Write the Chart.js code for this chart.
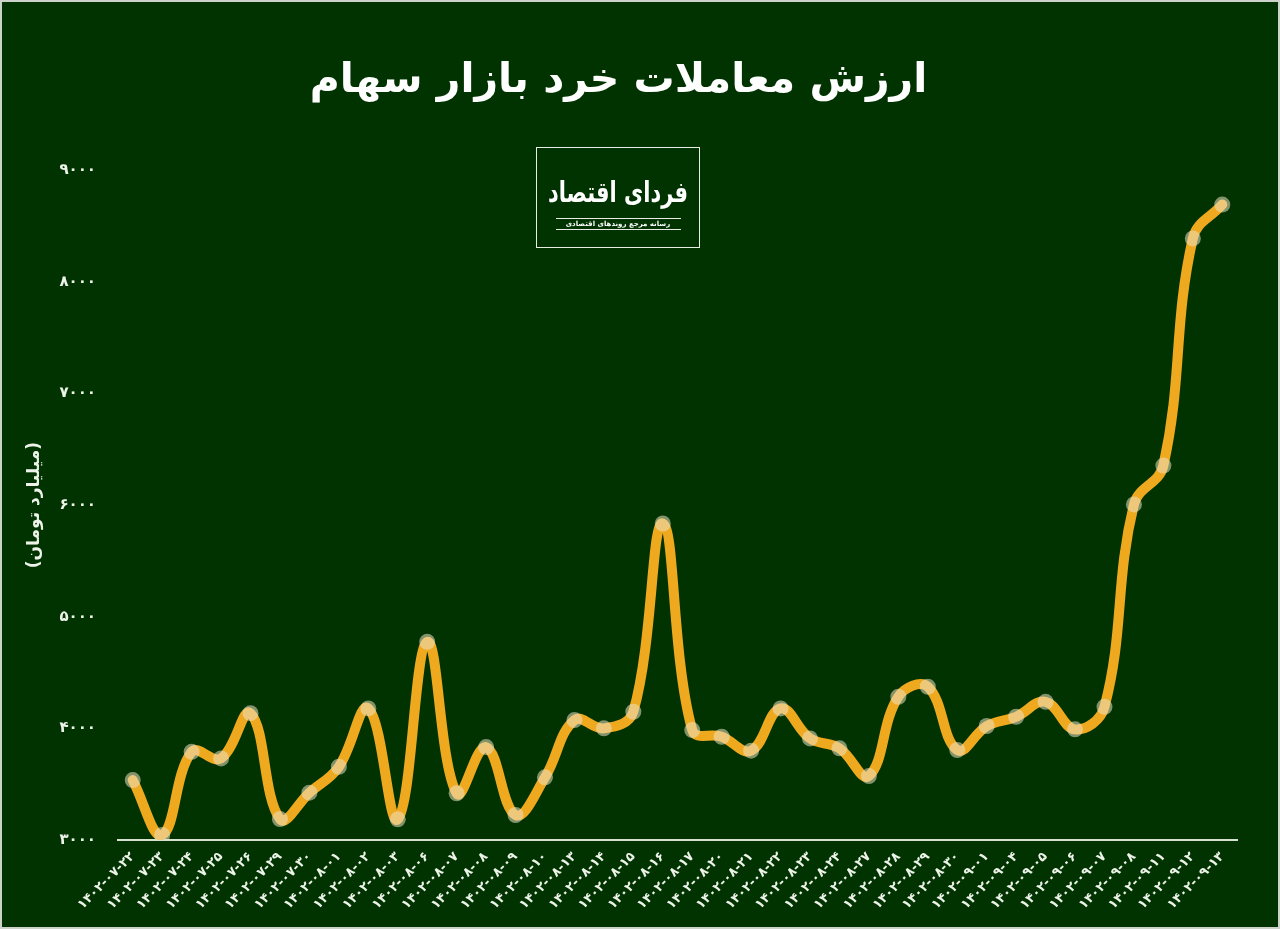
<!DOCTYPE html>
<html lang="fa">
<head>
<meta charset="utf-8">
<title>ارزش معاملات خرد بازار سهام</title>
<script src="https://cdn.jsdelivr.net/npm/chart.js@4.4.1/dist/chart.umd.min.js"></script>
<style>
  html, body { margin: 0; padding: 0; background: #003300; }
  #wrap { position: relative; width: 1280px; height: 929px; overflow: hidden; background: #003300; }
  #c { position: absolute; left: 0; top: 0; }
  #frame { position: absolute; left: 0; top: 0; width: 1280px; height: 929px; box-sizing: border-box;
           border: 2px solid #cdd3c9; pointer-events: none; }
  #logo { position: absolute; left: 536px; top: 147px; width: 164px; height: 101px; box-sizing: border-box;
          border: 1px solid #e8ece4; font-family: "DejaVu Sans", sans-serif; color: #ffffff; direction: rtl; }
  #logo .big { position: absolute; left: 0; width: 100%; top: 28px; text-align: center; font-size: 21px; font-weight: bold; line-height: 34px; white-space: nowrap; transform: scaleY(1.35); }
  #logo .l1 { position: absolute; left: 19px; width: 125px; top: 70px; height: 1px; background: #e8ece4; }
  #logo .l2 { position: absolute; left: 19px; width: 125px; top: 81px; height: 1px; background: #e8ece4; }
  #logo .small { position: absolute; left: 0; width: 100%; top: 71px; text-align: center; font-size: 7px; font-weight: bold; line-height: 10px; white-space: nowrap; }
</style>
</head>
<body>
<div id="wrap">
  <canvas id="c" width="1280" height="929"></canvas>
  <div id="logo">
    <div class="big">فردای اقتصاد</div>
    <div class="l1"></div>
    <div class="small">رسانه مرجع روندهای اقتصادی</div>
    <div class="l2"></div>
  </div>
  <div id="frame"></div>
</div>
<script>
// ---- data ----
const chartTitle = "ارزش معاملات خرد بازار سهام";
const yAxisTitle = "(میلیارد تومان)";
const dates = [
  "۱۴۰۲-۰۷-۲۲","۱۴۰۲-۰۷-۲۳","۱۴۰۲-۰۷-۲۴","۱۴۰۲-۰۷-۲۵","۱۴۰۲-۰۷-۲۶","۱۴۰۲-۰۷-۲۹","۱۴۰۲-۰۷-۳۰",
  "۱۴۰۲-۰۸-۰۱","۱۴۰۲-۰۸-۰۲","۱۴۰۲-۰۸-۰۳","۱۴۰۲-۰۸-۰۶","۱۴۰۲-۰۸-۰۷","۱۴۰۲-۰۸-۰۸","۱۴۰۲-۰۸-۰۹",
  "۱۴۰۲-۰۸-۱۰","۱۴۰۲-۰۸-۱۳","۱۴۰۲-۰۸-۱۴","۱۴۰۲-۰۸-۱۵","۱۴۰۲-۰۸-۱۶","۱۴۰۲-۰۸-۱۷","۱۴۰۲-۰۸-۲۰",
  "۱۴۰۲-۰۸-۲۱","۱۴۰۲-۰۸-۲۲","۱۴۰۲-۰۸-۲۳","۱۴۰۲-۰۸-۲۴","۱۴۰۲-۰۸-۲۷","۱۴۰۲-۰۸-۲۸","۱۴۰۲-۰۸-۲۹",
  "۱۴۰۲-۰۸-۳۰","۱۴۰۲-۰۹-۰۱","۱۴۰۲-۰۹-۰۴","۱۴۰۲-۰۹-۰۵","۱۴۰۲-۰۹-۰۶","۱۴۰۲-۰۹-۰۷","۱۴۰۲-۰۹-۰۸",
  "۱۴۰۲-۰۹-۱۱","۱۴۰۲-۰۹-۱۲","۱۴۰۲-۰۹-۱۳"
];
const tradeValue = [
  3537, 3045, 3790, 3731, 4136, 3188, 3424,
  3656, 4179, 3185, 4775, 3418, 3832, 3224,
  3561, 4074, 4000, 4149, 5835, 3985, 3925,
  3800, 4179, 3910, 3821, 3573, 4283, 4373,
  3806, 4021, 4104, 4238, 3991, 4193, 6006,
  6354, 8389, 8692
];
const yMin = 3000, yMax = 9000, yStep = 1000;

// ---- helpers ----
const faDigits = "۰۱۲۳۴۵۶۷۸۹";
function toFa(n) { return String(n).replace(/[0-9]/g, d => faDigits[+d]); }

const FONT = "'DejaVu Sans', 'Noto Sans', sans-serif";
const TXT = "#eef3ea";

new Chart(document.getElementById('c'), {
  type: 'line',
  data: {
    labels: dates,
    datasets: [
      {
        data: tradeValue,
        borderColor: '#efa91f',
        borderWidth: 10,
        tension: 0.4,
        fill: false,
        pointRadius: 8,
        pointBackgroundColor: 'rgba(236,226,196,0.55)',
        pointBorderWidth: 0,
        borderCapStyle: 'round',
        borderJoinStyle: 'round'
      },
      {
        data: tradeValue,
        showLine: false,
        pointRadius: 1.6,
        pointBackgroundColor: '#ffffff',
        pointBorderWidth: 0
      }
    ]
  },
  options: {
    responsive: false,
    animation: false,
    events: [],
    devicePixelRatio: 1,
    layout: { padding: { top: 0, left: 0, right: 43, bottom: 0 } },
    plugins: {
      legend: { display: false },
      tooltip: { enabled: false },
      title: {
        display: true,
        text: chartTitle,
        color: '#ffffff',
        font: { family: FONT, size: 41, weight: 'bold', lineHeight: 1.2 },
        padding: { top: 57, bottom: 64 }
      }
    },
    scales: {
      x: {
        offset: true,
        grid: { display: false, drawTicks: false },
        border: { display: true, color: '#d6e2cf', width: 2 },
        ticks: {
          color: TXT,
          font: { family: FONT, size: 13, weight: 'bold' },
          minRotation: 45,
          maxRotation: 45,
          autoSkip: false,
          padding: 9
        },
        afterFit: s => { s.height = 89; }
      },
      y: {
        min: yMin,
        max: yMax,
        grid: { display: false, drawTicks: false },
        border: { display: false },
        ticks: {
          stepSize: yStep,
          color: TXT,
          font: { family: FONT, size: 15, weight: 'bold' },
          padding: 22,
          callback: v => toFa(v)
        },
        title: {
          display: true,
          text: yAxisTitle,
          color: TXT,
          font: { family: FONT, size: 17, weight: 'bold' },
          padding: { top: 24, bottom: 0 }
        },
        afterFit: s => { s.width = 118; }
      }
    }
  }
});
</script>
</body>
</html>
